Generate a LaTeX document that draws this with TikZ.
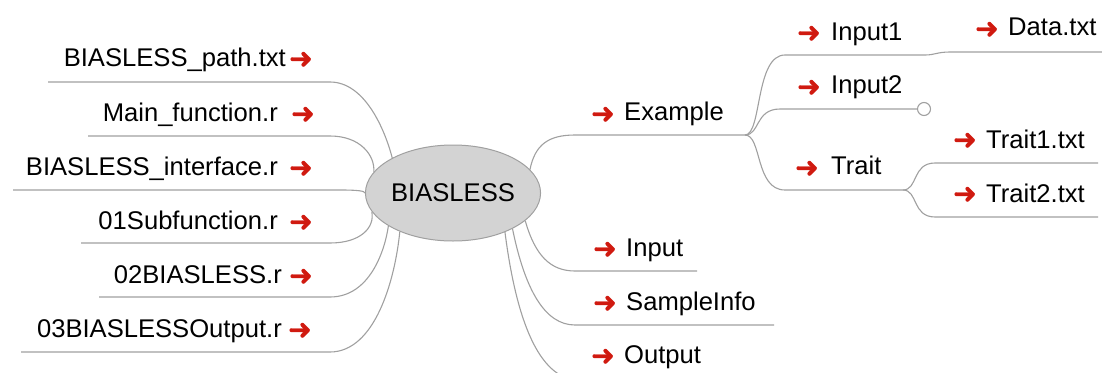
\documentclass[tikz,border=0pt]{standalone}
\usepackage{fontspec}
\setmainfont{Liberation Sans}
\newfontfamily\dejavu[FakeBold=1.6]{DejaVu Sans}
\usetikzlibrary{shapes.geometric}
\definecolor{arrred}{HTML}{D01A10}
\definecolor{linegray}{HTML}{A0A0A0}
\definecolor{rootfill}{HTML}{D3D3D3}
\begin{document}
\begin{tikzpicture}[x=1pt,y=-1pt,
  lbl/.style={inner sep=0pt, font=\fontsize{25.6}{30}\selectfont},
  arr/.style={inner sep=0pt, anchor=base west, yshift=-2pt, text=arrred, font=\dejavu\fontsize{28}{28}\selectfont},
  conn/.style={draw=linegray, line width=1.1pt},
  rootnode/.style={ellipse, draw=linegray, fill=rootfill, line width=1pt,
    minimum width=162pt, minimum height=96pt, inner sep=0pt, font=\fontsize{25.6}{30}\selectfont},
  endcircle/.style={circle, draw=linegray, fill=white, line width=1.1pt, minimum size=13pt, inner sep=0pt}]
\useasboundingbox (0,0) rectangle (1102,372);
\clip (0,0) rectangle (1102,372);

\node[rootnode] (root) at (453,193) {BIASLESS};

% left labels
\node[lbl, anchor=base east] (t1) at (286,66) {BIASLESS\_path.txt};
\node[lbl, anchor=base east] (t2) at (278,121) {Main\_function.r};
\node[lbl, anchor=base east] (t3) at (278,175) {BIASLESS\_interface.r};
\node[lbl, anchor=base east] (t4) at (278,229) {01Subfunction.r};
\node[lbl, anchor=base east] (t5) at (282,283) {02BIASLESS.r};
\node[lbl, anchor=base east] (t6) at (282,337) {03BIASLESSOutput.r};
\node[arr] (a1) at (289,66) {➜};
\node[arr] (a2) at (291,121) {➜};
\node[arr] (a3) at (289,175) {➜};
\node[arr] (a4) at (289,229) {➜};
\node[arr] (a5) at (289,283) {➜};
\node[arr] (a6) at (288,337) {➜};

% left line ends
\coordinate (e1) at (48,82);
\coordinate (e2) at (88,136);
\coordinate (e3) at (13,190);
\coordinate (e4) at (81,243);
\coordinate (e5) at (99,297);
\coordinate (e6) at (21,352);

\draw[conn] (e1) -- (330,82) .. controls (365,82) and (385,130) .. (root.150);
\draw[conn] (e2) -- (330,136) .. controls (360,136) and (375,155) .. (root.165);
\draw[conn] (e3) -- (340,190) .. controls (358,190) and (365,191) .. (root.180);
\draw[conn] (e4) -- (330,243) .. controls (360,243) and (375,228) .. (root.193);
\draw[conn] (e5) -- (330,297) .. controls (370,297) and (385,250) .. (root.207);
\draw[conn] (e6) -- (330,352) .. controls (375,352) and (395,280) .. (root.216);

% right labels
\node[lbl, anchor=base west] (ex) at (624,120) {Example};
\node[lbl, anchor=base west] (in1) at (831,40) {Input1};
\node[lbl, anchor=base west] (in2) at (831,93) {Input2};
\node[lbl, anchor=base west] (tr) at (831,174) {Trait};
\node[lbl, anchor=base west] (dt) at (1008,35) {Data.txt};
\node[lbl, anchor=base west] (tr1) at (986,148) {Trait1.txt};
\node[lbl, anchor=base west] (tr2) at (986,202) {Trait2.txt};
\node[lbl, anchor=base west] (inp) at (626,256) {Input};
\node[lbl, anchor=base west] (si) at (626,310) {SampleInfo};
\node[lbl, anchor=base west] (out) at (624,363) {Output};
\node[arr] (aex) at (591,121) {➜};
\node[arr] (ain1) at (797,40) {➜};
\node[arr] (ain2) at (797,94) {➜};
\node[arr] (atr) at (795,175) {➜};
\node[arr] (adt) at (975,36) {➜};
\node[arr] (atr1) at (953,147) {➜};
\node[arr] (atr2) at (953,201) {➜};
\node[arr] (ainp) at (593,256) {➜};
\node[arr] (asi) at (593,310) {➜};
\node[arr] (aout) at (591,363) {➜};

% right branch points and ends
\coordinate (bex) at (745,135);
\coordinate (btr) at (903,190);
\coordinate (edt) at (1102,52);
\node[endcircle] (c2) at (924,109) {};
\coordinate (etr1) at (1098,163);
\coordinate (etr2) at (1098,217);
\coordinate (einp) at (697,271);
\coordinate (esi) at (774,325);
\coordinate (eout) at (700,380);

\draw[conn] (root.17) .. controls (535,145) and (548,135) .. (575,135) -- (bex);
\draw[conn] (bex) .. controls (762,135) and (755,55) .. (785,55) -- (925,55)
  .. controls (935,55) and (937,52) .. (950,52) -- (edt);
\draw[conn] (bex) .. controls (760,135) and (755,109) .. (780,109) -- (c2.west);
\draw[conn] (bex) .. controls (762,135) and (755,190) .. (785,190) -- (btr);
\draw[conn] (btr) .. controls (918,190) and (912,163) .. (935,163) -- (etr1);
\draw[conn] (btr) .. controls (918,190) and (912,217) .. (935,217) -- (etr2);

\draw[conn] (root.-21) .. controls (535,255) and (550,271) .. (575,271) -- (einp);
\draw[conn] (root.-31.5) .. controls (525,290) and (545,325) .. (575,325) -- (esi);
\draw[conn] (root.-37) .. controls (515,310) and (535,375) .. (575,380) -- (eout);
\end{tikzpicture}
\end{document}
